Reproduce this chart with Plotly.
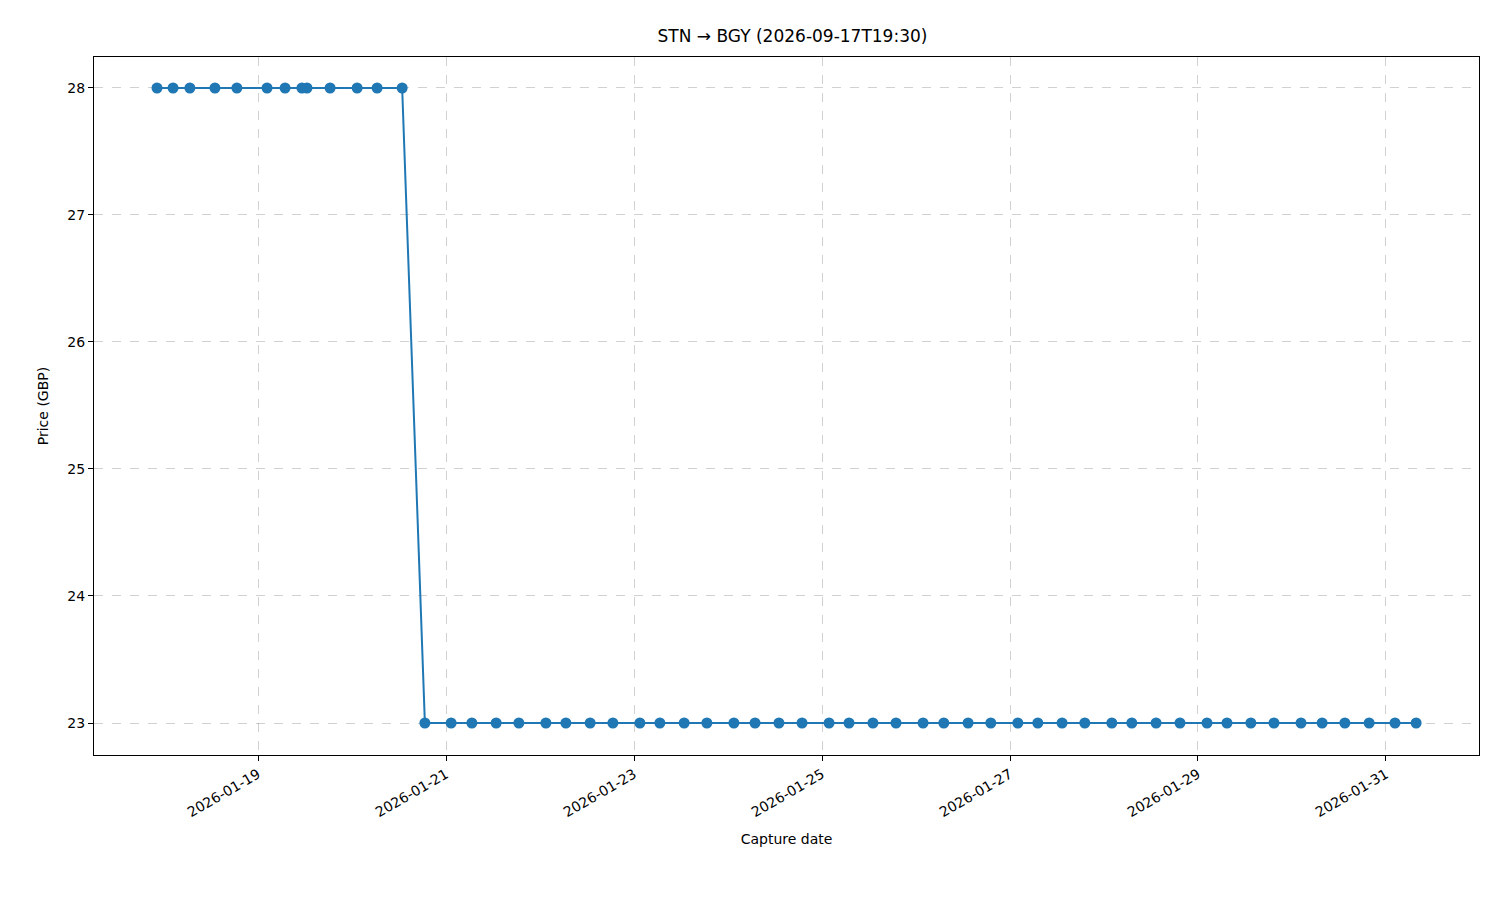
import plotly.graph_objects as go

capture_dates = [
    "2026-01-17 22:12", "2026-01-18 02:18", "2026-01-18 06:36", "2026-01-18 13:00",
    "2026-01-18 18:36", "2026-01-19 02:18", "2026-01-19 06:54", "2026-01-19 11:12",
    "2026-01-19 12:30", "2026-01-19 18:24", "2026-01-20 01:18", "2026-01-20 06:24",
    "2026-01-20 12:48", "2026-01-20 18:36", "2026-01-21 01:18", "2026-01-21 06:36",
    "2026-01-21 12:48", "2026-01-21 18:36", "2026-01-22 01:30", "2026-01-22 06:36",
    "2026-01-22 12:48", "2026-01-22 18:36", "2026-01-23 01:30", "2026-01-23 06:36",
    "2026-01-23 12:48", "2026-01-23 18:36", "2026-01-24 01:30", "2026-01-24 06:54",
    "2026-01-24 13:00", "2026-01-24 18:54", "2026-01-25 01:48", "2026-01-25 06:54",
    "2026-01-25 13:00", "2026-01-25 18:54", "2026-01-26 01:48", "2026-01-26 07:06",
    "2026-01-26 13:18", "2026-01-26 19:06", "2026-01-27 02:00", "2026-01-27 07:06",
    "2026-01-27 13:18", "2026-01-27 19:06", "2026-01-28 02:00", "2026-01-28 07:06",
    "2026-01-28 13:18", "2026-01-28 19:24", "2026-01-29 02:18", "2026-01-29 07:24",
    "2026-01-29 13:30", "2026-01-29 19:24", "2026-01-30 02:18", "2026-01-30 07:42",
    "2026-01-30 13:30", "2026-01-30 19:42", "2026-01-31 02:18", "2026-01-31 07:42",
]
prices = [28] * 13 + [23] * 43

tick_vals = ["2026-01-19", "2026-01-21", "2026-01-23", "2026-01-25",
             "2026-01-27", "2026-01-29", "2026-01-31"]

fig = go.Figure(go.Scatter(
    x=capture_dates, y=prices, mode="lines+markers",
    line=dict(color="#1f77b4", width=2),
    marker=dict(color="#1f77b4", size=11),
))

axis_common = dict(
    showline=True, linecolor="black", linewidth=1, mirror=True,
    ticks="outside", tickcolor="black", ticklen=5,
    showgrid=True, gridcolor="rgba(0,0,0,0.18)", griddash="dash",
    zeroline=False, tickfont=dict(size=14, color="black"),
)

fig.update_layout(
    width=1500, height=900,
    paper_bgcolor="white", plot_bgcolor="white",
    font=dict(family="DejaVu Sans", color="black"),
    title=dict(text="STN → BGY (2026-09-17T19:30)", x=0.523, xanchor="center",
               y=0.975, font=dict(size=17)),
    margin=dict(l=86, r=29, t=49, b=153),
    showlegend=False,
    xaxis=dict(axis_common, range=["2026-01-17 06:07", "2026-01-31 23:45"],
               tickvals=tick_vals, ticktext=tick_vals, tickangle=-30,
               title=dict(text="Capture date", font=dict(size=14))),
    yaxis=dict(axis_common, range=[22.748, 28.244], dtick=1,
               title=dict(text="Price (GBP)", font=dict(size=14))),
)

fig.write_html("out.html")
